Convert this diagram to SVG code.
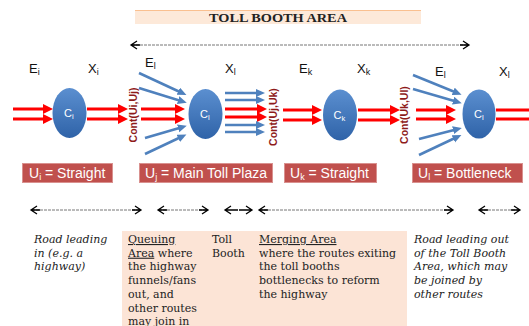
<svg xmlns="http://www.w3.org/2000/svg" width="529" height="326" viewBox="0 0 529 326">
<style>
.lbl{font-family:"Liberation Sans",Arial,sans-serif;font-size:13px;fill:#111}
.ctxt{font-family:"Liberation Sans",Arial,sans-serif;font-size:11px;fill:#fff}
.cont{font-family:"Liberation Sans",Arial,sans-serif;font-size:10.5px;font-weight:bold;fill:#8E1B1B}
.box{fill:#C0504D;stroke:#D9918F;stroke-width:1}
.btxt{font-family:"Liberation Sans",Arial,sans-serif;font-size:14px;fill:#fff}
.red{stroke:#FF0000;stroke-width:3;fill:none;marker-end:url(#ra)}
.blue{stroke:#4F81BD;stroke-width:2.5;fill:none;marker-end:url(#ba)}
.dash{stroke:#777;stroke-width:1;stroke-dasharray:3 1;fill:none}
.chev{stroke:#000;stroke-width:1.3;fill:none}
.ser{font-family:"DejaVu Serif","Liberation Serif",serif;font-size:11px;fill:#222}
.it{font-style:italic}
</style>
<defs>
<linearGradient id="eg" x1="0" y1="0" x2="0" y2="1">
<stop offset="0" stop-color="#5B8FD0"/>
<stop offset="1" stop-color="#2F63A8"/>
</linearGradient>
<marker id="ra" markerUnits="userSpaceOnUse" markerWidth="11" markerHeight="10" refX="3" refY="5" orient="auto">
<path d="M0,0 L10,5 L0,10 z" fill="#FF0000"/>
</marker>
<marker id="ba" markerUnits="userSpaceOnUse" markerWidth="10" markerHeight="9" refX="3" refY="4" orient="auto">
<path d="M0,0 L9,4 L0,8 z" fill="#4F81BD"/>
</marker>
</defs>
<rect width="529" height="326" fill="#fff"/>

<g id="title">
<rect x="135" y="10" width="286" height="14" fill="#FDE9D9"/>
<line x1="135" y1="10.5" x2="421" y2="10.5" stroke="#FAC090" stroke-width="1"/>
<text x="278" y="21.5" text-anchor="middle" font-family="Liberation Serif,serif" font-weight="bold" font-size="12.5" fill="#222" textLength="138" lengthAdjust="spacingAndGlyphs">TOLL BOOTH AREA</text>
</g>

<g id="zone-bg">
<rect x="122" y="231" width="285" height="95" fill="#FCE4D6"/>
</g>

<g id="connectors">
<line class="red" x1="13" y1="109" x2="46" y2="109"/>
<line class="red" x1="13" y1="119" x2="46" y2="119"/>
<line class="red" x1="87" y1="109" x2="121" y2="109"/>
<line class="red" x1="87" y1="119" x2="121" y2="119"/>
<line class="red" x1="141" y1="109" x2="178" y2="109"/>
<line class="red" x1="141" y1="119" x2="178" y2="119"/>
<line class="red" x1="225" y1="109" x2="260" y2="109"/>
<line class="red" x1="225" y1="117" x2="260" y2="117"/>
<line class="red" x1="283" y1="110" x2="315" y2="110"/>
<line class="red" x1="283" y1="120" x2="315" y2="120"/>
<line class="red" x1="358" y1="110" x2="393" y2="110"/>
<line class="red" x1="358" y1="120" x2="393" y2="120"/>
<line class="red" x1="416" y1="110" x2="449" y2="110"/>
<line class="red" x1="416" y1="119" x2="449" y2="119"/>
<line class="red" x1="496" y1="110" x2="540" y2="110"/>
<line class="red" x1="496" y1="119" x2="540" y2="119"/>
<line class="blue" x1="139" y1="73" x2="181" y2="92.5"/>
<line class="blue" x1="139" y1="88" x2="181" y2="101"/>
<line class="blue" x1="145" y1="138" x2="181" y2="127.5"/>
<line class="blue" x1="145" y1="154" x2="181" y2="137"/>
<line class="blue" x1="225" y1="93" x2="259" y2="93"/>
<line class="blue" x1="225" y1="100" x2="259" y2="100"/>
<line class="blue" x1="225" y1="125" x2="259" y2="125"/>
<line class="blue" x1="225" y1="132" x2="259" y2="132"/>
<line class="blue" x1="413" y1="75" x2="456" y2="92.5"/>
<line class="blue" x1="413" y1="89" x2="456" y2="101.5"/>
<line class="blue" x1="419" y1="139" x2="456" y2="129.5"/>
<line class="blue" x1="419" y1="155" x2="456" y2="137.5"/>

<g id="extent-top">
<line class="dash" x1="132" y1="45" x2="468" y2="45"/>
<path class="chev" d="M137,41 L131,45 L137,49 M131,45 H140"/>
<path class="chev" d="M463,41 L469,45 L463,49 M469,45 H460"/>
</g>
<g id="extent-bottom">
<line class="dash" x1="32" y1="210" x2="139" y2="210"/>
<path class="chev" d="M37,206 L31,210 L37,214 M31,210 H40"/>
<path class="chev" d="M135,206 L141,210 L135,214 M141,210 H132"/>
<line class="dash" x1="159" y1="210" x2="206" y2="210"/>
<path class="chev" d="M164,206 L158,210 L164,214 M158,210 H167"/>
<path class="chev" d="M202,206 L208,210 L202,214 M208,210 H199"/>
<path class="chev" d="M231,206 L225,210 L231,214 M225,210 H238"/>
<path class="chev" d="M246,206 L252,210 L246,214 M252,210 H239"/>
<line class="dash" x1="260" y1="210" x2="451" y2="210"/>
<path class="chev" d="M265,206 L259,210 L265,214 M259,210 H268"/>
<path class="chev" d="M447,206 L453,210 L447,214 M453,210 H444"/>
<line class="dash" x1="480" y1="210" x2="518" y2="210"/>
<path class="chev" d="M485,206 L479,210 L485,214 M479,210 H488"/>
<path class="chev" d="M514,206 L520,210 L514,214 M520,210 H511"/>
</g>
</g>

<g id="cont-labels">
<text class="cont" transform="translate(137,115) rotate(-90)" text-anchor="middle">Cont(Ui,Uj)</text>
<text class="cont" transform="translate(277,117) rotate(-90)" text-anchor="middle">Cont(Uj,Uk)</text>
<text class="cont" transform="translate(408,115) rotate(-90)" text-anchor="middle">Cont(Uk,Ul)</text>
</g>

<g id="node-ci">
<ellipse cx="69.5" cy="113" rx="17" ry="25" fill="url(#eg)"/>
<text class="ctxt" x="64" y="117">C<tspan font-size="7.5" dy="2">i</tspan></text>
<text class="lbl" x="29" y="73">E<tspan font-size="9" dy="2">i</tspan></text>
<text class="lbl" x="88" y="73">X<tspan font-size="9" dy="2">i</tspan></text>
</g>

<g id="node-cl-plaza">
<ellipse cx="205.5" cy="114" rx="17" ry="25" fill="url(#eg)"/>
<text class="ctxt" x="200" y="118">C<tspan font-size="7.5" dy="2">l</tspan></text>
<text class="lbl" x="145" y="67">E<tspan font-size="9" dy="2">l</tspan></text>
<text class="lbl" x="225" y="73">X<tspan font-size="9" dy="2">l</tspan></text>
</g>

<g id="node-ck">
<ellipse cx="340" cy="115" rx="17" ry="25.5" fill="url(#eg)"/>
<text class="ctxt" x="333.5" y="119">C<tspan font-size="7.5" dy="2">k</tspan></text>
<text class="lbl" x="299" y="73">E<tspan font-size="9" dy="2">k</tspan></text>
<text class="lbl" x="357" y="73">X<tspan font-size="9" dy="2">k</tspan></text>
</g>

<g id="node-cl-bottleneck">
<ellipse cx="479" cy="114" rx="16.5" ry="24.5" fill="url(#eg)"/>
<text class="ctxt" x="474" y="118">C<tspan font-size="7.5" dy="2">l</tspan></text>
<text class="lbl" x="435" y="76">E<tspan font-size="9" dy="2">l</tspan></text>
<text class="lbl" x="499" y="76">X<tspan font-size="9" dy="2">l</tspan></text>
</g>

<g id="label-ui">
<rect class="box" x="22.5" y="163.5" width="90" height="19"/>
<text class="btxt" x="29" y="178">U<tspan font-size="9" dy="2">i</tspan><tspan dy="-2"> = Straight</tspan></text>
</g>
<g id="label-uj">
<rect class="box" x="139.5" y="163.5" width="133" height="19"/>
<text class="btxt" x="145" y="178">U<tspan font-size="9" dy="2">j</tspan><tspan dy="-2"> = Main Toll Plaza</tspan></text>
</g>
<g id="label-uk">
<rect class="box" x="284.5" y="163.5" width="92" height="19"/>
<text class="btxt" x="290" y="178">U<tspan font-size="9" dy="2">k</tspan><tspan dy="-2"> = Straight</tspan></text>
</g>
<g id="label-ul">
<rect class="box" x="412.5" y="163.5" width="110" height="19"/>
<text class="btxt" x="418" y="178">U<tspan font-size="9" dy="2">l</tspan><tspan dy="-2"> = Bottleneck</tspan></text>
</g>

<g id="desc-road-in">
<text class="ser it" x="34" y="243">Road leading</text>
<text class="ser it" x="34" y="256.7">in (e.g. a</text>
<text class="ser it" x="34" y="270.4">highway)</text>
</g>
<g id="desc-queuing">
<text class="ser" x="128" y="243" text-decoration="underline">Queuing</text>
<text class="ser" x="128" y="256.7"><tspan text-decoration="underline">Area</tspan> where</text>
<text class="ser" x="128" y="270.4">the highway</text>
<text class="ser" x="128" y="284.1">funnels/fans</text>
<text class="ser" x="128" y="297.8">out, and</text>
<text class="ser" x="128" y="311.5">other routes</text>
<text class="ser" x="128" y="324.5">may join in</text>
</g>
<g id="desc-booth">
<text class="ser" x="212" y="243">Toll</text>
<text class="ser" x="212" y="256.7">Booth</text>
</g>
<g id="desc-merging">
<text class="ser" x="259" y="243" text-decoration="underline">Merging Area</text>
<text class="ser" x="259" y="256.7">where the routes exiting</text>
<text class="ser" x="259" y="270.4">the toll booths</text>
<text class="ser" x="259" y="284.1">bottlenecks to reform</text>
<text class="ser" x="259" y="297.8">the highway</text>
</g>
<g id="desc-road-out">
<text class="ser it" x="414" y="243">Road leading out</text>
<text class="ser it" x="414" y="256.7">of the Toll Booth</text>
<text class="ser it" x="414" y="270.4">Area, which may</text>
<text class="ser it" x="414" y="284.1">be joined by</text>
<text class="ser it" x="414" y="297.8">other routes</text>
</g>
</svg>
